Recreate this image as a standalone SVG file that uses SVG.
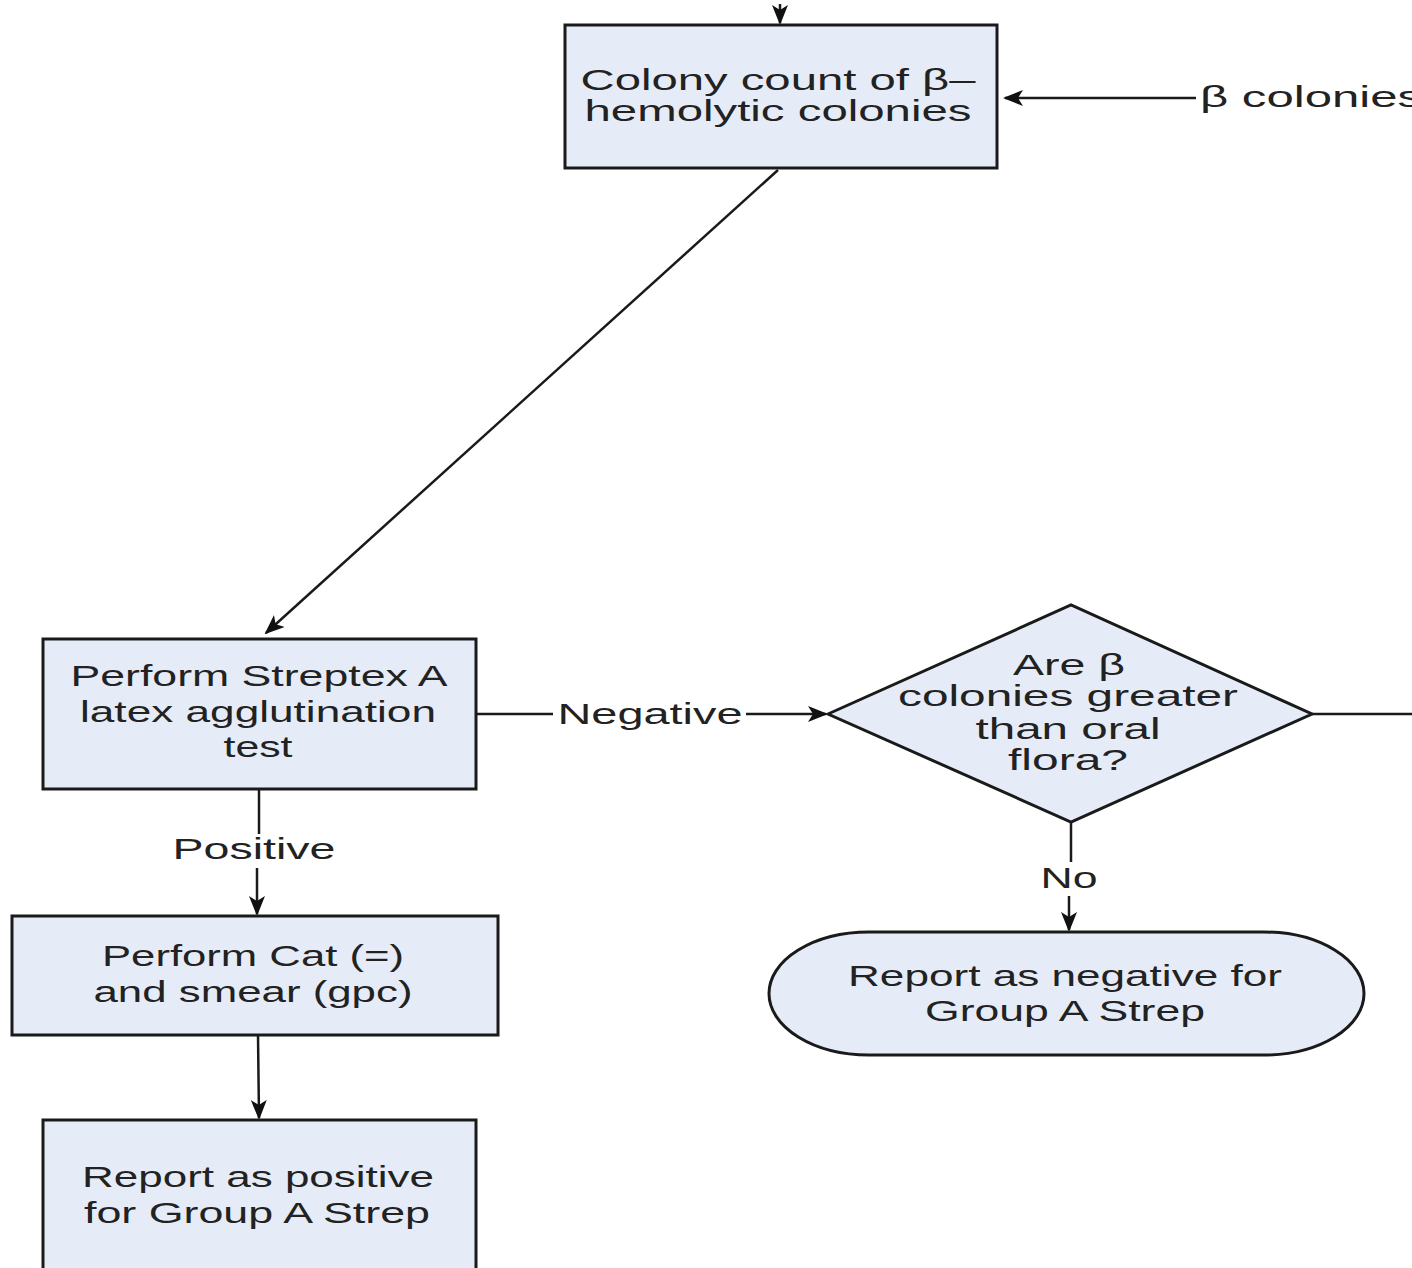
<svg xmlns="http://www.w3.org/2000/svg" width="1412" height="1268" viewBox="0 0 1412 1268">
<style>
.node{fill:#e6ecf7;stroke:#1a1a1a;stroke-width:3}
.t{font-family:"Liberation Sans",Arial,sans-serif;font-size:30px;fill:#222;text-anchor:middle}
.c{stroke:#1a1a1a;stroke-width:2.5;fill:none}
</style>
<defs>
<marker id="ah" markerUnits="userSpaceOnUse" markerWidth="20" markerHeight="16" viewBox="0 0 20 16" refX="18" refY="8" orient="auto">
<path d="M0,0 L20,8 L0,16 L5,8 Z" fill="#111"/>
</marker>
</defs>
<rect width="1412" height="1268" fill="#fff"/>
<g id="connectors">
<line class="c" x1="780" y1="4" x2="780" y2="23" marker-end="url(#ah)"/>
<line class="c" x1="1196" y1="98" x2="1005" y2="98" marker-end="url(#ah)"/>
<line class="c" x1="778" y1="170" x2="266" y2="633" marker-end="url(#ah)"/>
<line class="c" x1="476" y1="714" x2="553" y2="714"/>
<line class="c" x1="746" y1="714" x2="826" y2="714" marker-end="url(#ah)"/>
<line class="c" x1="1312" y1="714" x2="1412" y2="714"/>
<line class="c" x1="1071" y1="822" x2="1071" y2="862"/>
<line class="c" x1="1069" y1="896" x2="1069" y2="930" marker-end="url(#ah)"/>
<line class="c" x1="259" y1="789" x2="259" y2="834"/>
<line class="c" x1="257" y1="868" x2="257" y2="914" marker-end="url(#ah)"/>
<line class="c" x1="258" y1="1035" x2="259" y2="1118" marker-end="url(#ah)"/>
<text class="t" x="1200" y="107" style="text-anchor:start" textLength="222" lengthAdjust="spacingAndGlyphs">β colonies</text>
<text class="t" x="650" y="724" textLength="185" lengthAdjust="spacingAndGlyphs">Negative</text>
<text class="t" x="254" y="859" textLength="163" lengthAdjust="spacingAndGlyphs">Positive</text>
<text class="t" x="1069" y="888" textLength="57" lengthAdjust="spacingAndGlyphs">No</text>
</g>
<g id="n-colony">
<rect class="node" x="565" y="25" width="432" height="143"/>
<text class="t" x="778" y="90" textLength="395" lengthAdjust="spacingAndGlyphs">Colony count of β–</text>
<text class="t" x="778" y="121" textLength="387" lengthAdjust="spacingAndGlyphs">hemolytic colonies</text>
</g>
<g id="n-streptex">
<rect class="node" x="43" y="639" width="433" height="150"/>
<text class="t" x="259" y="686" textLength="377" lengthAdjust="spacingAndGlyphs">Perform Streptex A</text>
<text class="t" x="258" y="722" textLength="356" lengthAdjust="spacingAndGlyphs">latex agglutination</text>
<text class="t" x="258" y="757" textLength="69" lengthAdjust="spacingAndGlyphs">test</text>
</g>
<g id="n-decision">
<polygon class="node" points="828,714 1071,605 1312,714 1071,822"/>
<text class="t" x="1069" y="675" textLength="112" lengthAdjust="spacingAndGlyphs">Are β</text>
<text class="t" x="1068" y="706" textLength="340" lengthAdjust="spacingAndGlyphs">colonies greater</text>
<text class="t" x="1068" y="739" textLength="185" lengthAdjust="spacingAndGlyphs">than oral</text>
<text class="t" x="1068" y="770" textLength="120" lengthAdjust="spacingAndGlyphs">flora?</text>
</g>
<g id="n-negative">
<rect class="node" x="769" y="932" width="595" height="123" rx="100" ry="61.5"/>
<text class="t" x="1065" y="986" textLength="434" lengthAdjust="spacingAndGlyphs">Report as negative for</text>
<text class="t" x="1065" y="1021" textLength="280" lengthAdjust="spacingAndGlyphs">Group A Strep</text>
</g>
<g id="n-cat">
<rect class="node" x="12" y="916" width="486" height="119"/>
<text class="t" x="253" y="966" textLength="302" lengthAdjust="spacingAndGlyphs">Perform Cat (=)</text>
<text class="t" x="253" y="1002" textLength="319" lengthAdjust="spacingAndGlyphs">and smear (gpc)</text>
</g>
<g id="n-positive">
<rect class="node" x="43" y="1120" width="433" height="160"/>
<text class="t" x="258" y="1187" textLength="352" lengthAdjust="spacingAndGlyphs">Report as positive</text>
<text class="t" x="257" y="1223" textLength="346" lengthAdjust="spacingAndGlyphs">for Group A Strep</text>
</g>
</svg>
